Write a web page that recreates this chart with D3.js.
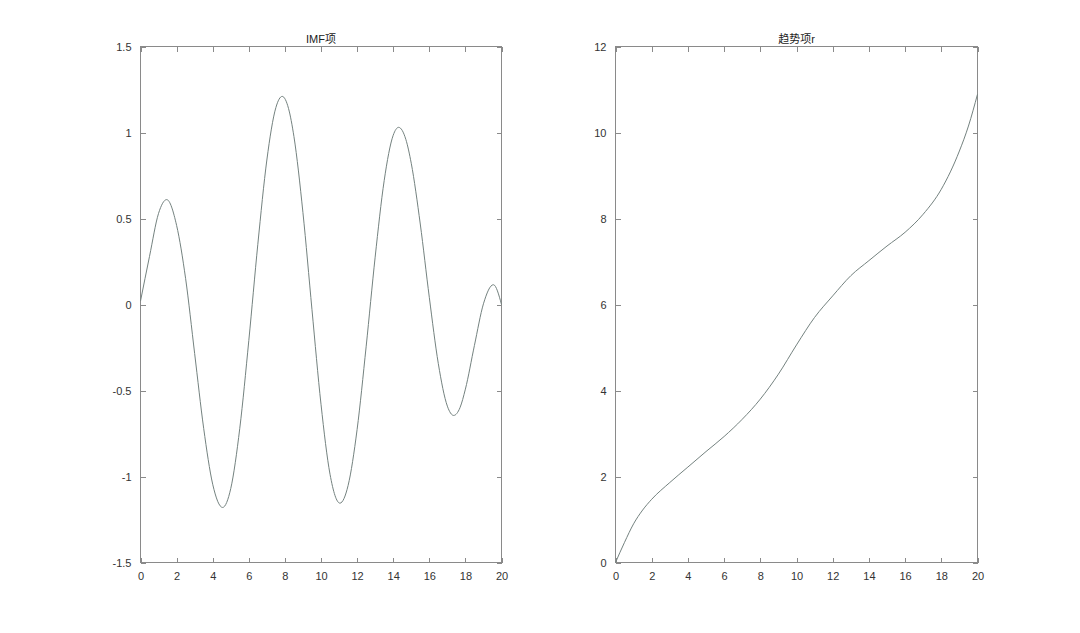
<!DOCTYPE html>
<html>
<head>
<meta charset="utf-8" />
<script src="https://cdn.jsdelivr.net/npm/d3@7"></script>
<style>
	body { margin: 0; background: #fff; }
	.box { fill: none; stroke: #8a8a8a; stroke-width: 1; shape-rendering: crispEdges; }
	.tick line { stroke: #8a8a8a; shape-rendering: crispEdges; }
	.tick text { fill: #333; font-family: "Liberation Sans", Arial, sans-serif; font-size: 11px; }
	.title { fill: #222; font-family: "Liberation Sans", "Noto Sans CJK SC", sans-serif; font-size: 11px; }
	.curve { fill: none; stroke: #74827f; stroke-width: 1; }
</style>
</head>
<body>
<div id="chart"></div>
<script>
// IMF component
var imfX = [0, 0.5, 1, 1.45, 2, 2.5, 3, 3.5, 4, 4.55, 5, 5.5, 6, 6.5, 7, 7.5, 7.85, 8.2, 8.5, 9, 9.5, 10, 10.5, 11.05,
	11.5, 12, 12.5, 13, 13.5, 14, 14.3, 14.7, 15, 15.5, 16, 16.5, 17, 17.35, 17.7, 18, 18.5, 19, 19.55, 20];
var imfY = [0.02, 0.28, 0.53, 0.61, 0.46, 0.15, -0.285, -0.72, -1.045, -1.18, -1.07, -0.72, -0.21, 0.35, 0.84, 1.145, 1.21, 1.14, 0.977, 0.534, -0.03, -0.58, -0.987, -1.155,
	-1.053, -0.727, -0.246, 0.275, 0.72, 0.984, 1.03, 0.96, 0.821, 0.468, 0.042, -0.344, -0.591, -0.645, -0.6, -0.492, -0.238, 0.004, 0.115, 0.0];

// trend component, right panel
var trendX = [0, 0.5, 1, 1.5, 2, 3, 4, 5, 6, 7, 8, 9, 10, 11, 12, 13, 14, 15, 16, 17, 18, 19, 19.5, 20];
var trendY = [0, 0.47, 0.9, 1.22, 1.47, 1.86, 2.22, 2.58, 2.93, 3.33, 3.8, 4.38, 5.06, 5.7, 6.2, 6.67, 7.02, 7.36, 7.68, 8.1, 8.68, 9.57, 10.15, 10.89];

var xTicks = [0, 2, 4, 6, 8, 10, 12, 14, 16, 18, 20];
var imfTicks = [-1.5, -1, -0.5, 0, 0.5, 1, 1.5];
var trendTicks = [0, 2, 4, 6, 8, 10, 12];

var svg = d3.select("#chart").append("svg")
	.attr("width", 1080)
	.attr("height", 633);

function drawPanel(left, right, top, bottom, yDomain, yTicks, xs, ys, title) {
	var x = d3.scaleLinear().domain([0, 20]).range([left, right]);
	var y = d3.scaleLinear().domain(yDomain).range([bottom, top]);
	var fmt = function (d) { return String(d); };
	var tl = 5;

	// bottom and top axes, ticks pointing inwards
	svg.append("g")
		.attr("transform", "translate(0," + bottom + ")")
		.call(d3.axisBottom(x).tickValues(xTicks).tickFormat(fmt).tickSizeInner(-tl).tickSizeOuter(0).tickPadding(10))
		.call(function (g) { g.select(".domain").remove(); });
	svg.append("g")
		.attr("transform", "translate(0," + top + ")")
		.call(d3.axisTop(x).tickValues(xTicks).tickFormat("").tickSizeInner(-tl).tickSizeOuter(0))
		.call(function (g) { g.select(".domain").remove(); });

	// left and right axes
	svg.append("g")
		.attr("transform", "translate(" + left + ",0)")
		.call(d3.axisLeft(y).tickValues(yTicks).tickFormat(fmt).tickSizeInner(-tl).tickSizeOuter(0).tickPadding(9))
		.call(function (g) { g.select(".domain").remove(); });
	svg.append("g")
		.attr("transform", "translate(" + right + ",0)")
		.call(d3.axisRight(y).tickValues(yTicks).tickFormat("").tickSizeInner(-tl).tickSizeOuter(0))
		.call(function (g) { g.select(".domain").remove(); });

	svg.append("rect")
		.attr("class", "box")
		.attr("x", left)
		.attr("y", top)
		.attr("width", right - left)
		.attr("height", bottom - top);

	var line = d3.line()
		.x(function (d) { return x(d[0]); })
		.y(function (d) { return y(d[1]); })
		.curve(d3.curveMonotoneX);

	svg.append("path")
		.datum(d3.zip(xs, ys))
		.attr("class", "curve")
		.attr("d", line);

	svg.append("text")
		.attr("class", "title")
		.attr("x", (left + right) / 2)
		.attr("y", top - 4)
		.attr("text-anchor", "middle")
		.text(title);
}

drawPanel(140.5, 501.5, 46.5, 562.5, [-1.5, 1.5], imfTicks, imfX, imfY, "IMF项");
drawPanel(615.5, 977.5, 46.5, 562.5, [0, 12], trendTicks, trendX, trendY, "趋势项r");
</script>
</body>
</html>
